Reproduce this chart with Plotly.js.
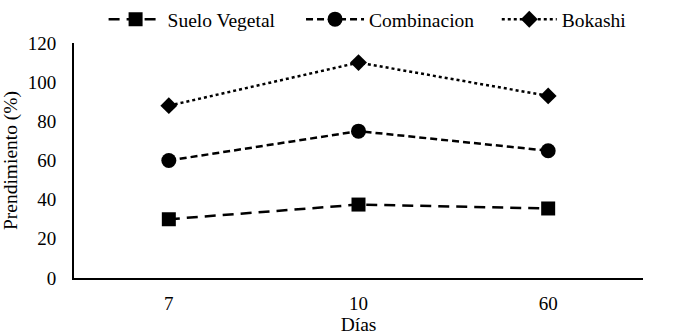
<!DOCTYPE html>
<html>
<head>
<meta charset="utf-8">
<script src="https://cdn.plot.ly/plotly-3.0.1.min.js"></script>
<style>body{margin:0;background:#fff;} #chart{width:689px;height:335px;}</style>
</head>
<body>
<div id="chart"></div>
<script>
var dias = ['7', '10', '60'];
var sueloVegetal = [30, 37.5, 35.5];
var combinacion = [60, 75, 65];
var bokashi = [88, 110, 93];

var serif = '"Liberation Serif", "Times New Roman", serif';

var traces = [
    { x: dias, y: sueloVegetal, name: 'Suelo Vegetal', type: 'scatter', mode: 'lines+markers',
      legend: 'legend',
      line: { color: '#000', width: 2.5, dash: '11px,7px' },
      marker: { symbol: 'square', size: 14, color: '#000' } },
    { x: dias, y: combinacion, name: 'Combinacion', type: 'scatter', mode: 'lines+markers',
      legend: 'legend2',
      line: { color: '#000', width: 2.5, dash: '7px,4px' },
      marker: { symbol: 'circle', size: 15, color: '#000' } },
    { x: dias, y: bokashi, name: 'Bokashi', type: 'scatter', mode: 'lines+markers',
      legend: 'legend3',
      line: { color: '#000', width: 2.5, dash: 'dot' },
      marker: { symbol: 'diamond', size: 13, color: '#000' } }
];

function legendAt(x, itemwidth) {
    return {
        orientation: 'h', x: x, xanchor: 'left', yref: 'container', y: 1, yanchor: 'top',
        font: { family: serif, size: 19.5, color: '#000' },
        itemwidth: itemwidth, bgcolor: 'rgba(0,0,0,0)'
    };
}

var layout = {
    width: 689,
    height: 335,
    margin: { l: 74, r: 46, t: 43, b: 57 },
    paper_bgcolor: '#fff',
    plot_bgcolor: '#fff',
    font: { family: serif, size: 19, color: '#000' },
    showlegend: true,
    legend: legendAt(0.052, 54),
    legend2: legendAt(0.399, 58),
    legend3: legendAt(0.743, 55),
    xaxis: {
        type: 'category',
        range: [-0.5, 2.5],
        showline: true, linecolor: '#000', linewidth: 2,
        showgrid: false, zeroline: false, ticks: '',
        ticklabelstandoff: 7,
        tickfont: { family: serif, size: 19 },
        title: { text: 'Días', standoff: 8, font: { family: serif, size: 19.5 } }
    },
    yaxis: {
        range: [0, 120],
        dtick: 20,
        showline: true, linecolor: '#000', linewidth: 2,
        showgrid: false, zeroline: false, ticks: '',
        ticklabelstandoff: 12,
        tickfont: { family: serif, size: 19 },
        title: { text: 'Prendimiento (%)', standoff: 8, font: { family: serif, size: 19.5 } }
    }
};

Plotly.newPlot('chart', traces, layout, { displayModeBar: false });
</script>
</body>
</html>
